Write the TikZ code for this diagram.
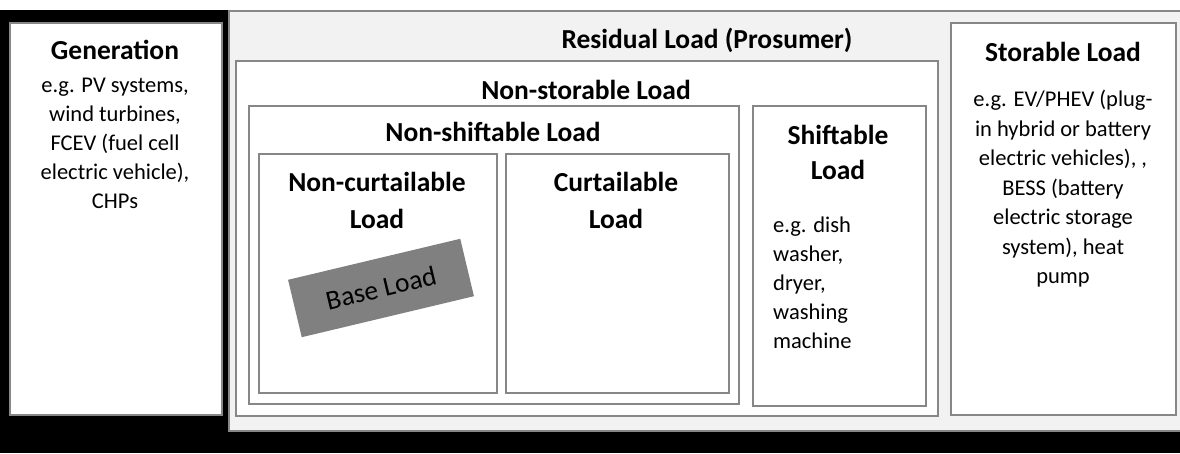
\documentclass[tikz,border=0pt]{standalone}
\usepackage{fontspec}
\setmainfont{Carlito}
\definecolor{boxgray}{HTML}{878787}
\definecolor{resfill}{HTML}{F2F2F2}
\definecolor{basegray}{HTML}{808080}
\begin{document}
\begin{tikzpicture}[x=1pt,y=-1pt,
  box/.style={draw=boxgray, line width=2pt, fill=white, inner sep=0pt, anchor=north west},
  hdr/.style={font=\fontsize{27.5}{37}\selectfont\bfseries, inner sep=0pt, align=center},
  body/.style={font=\fontsize{22.5}{29}\selectfont, inner sep=0pt, align=center},
]
\useasboundingbox (0,0) rectangle (1180,453);
\fill[white] (0,0) rectangle (1180,453);
\fill[black] (0,10) rectangle (228,453);
\fill[black] (0,431) rectangle (1180,453);
% residual box
\node[box, draw=boxgray, line width=1.5pt, fill=resfill, minimum width=962, minimum height=420] (res) at (228,10) {};
% boxes
\node[box, minimum width=212, minimum height=392] (gen) at (9,22) {};
\node[box, minimum width=225, minimum height=392] (stor) at (950,22) {};
\node[box, minimum width=702, minimum height=355] (nonstor) at (235,60) {};
\node[box, minimum width=490, minimum height=298] (nonshift) at (248,105) {};
\node[box, minimum width=173, minimum height=300] (shift) at (752,105) {};
\node[box, minimum width=238, minimum height=239] (noncurt) at (258,153) {};
\node[box, minimum width=223, minimum height=239] (curt) at (505,153) {};
% headers
\node[hdr] (genT) at (115,50) {Generation};
\node[hdr] (resT) at (707,40) {Residual Load (Prosumer)};
\node[hdr] (storT) at (1063,52) {Storable Load};
\node[hdr] (nonstorT) at (586,90) {Non-storable Load};
\node[hdr] (nonshiftT) at (493,132) {Non-shiftable Load};
\node[hdr] (noncurtT) at (377,200) {Non-curtailable\\Load};
\node[hdr] (curtT) at (616,200) {Curtailable\\Load};
\node[hdr, font=\fontsize{27.5}{35}\selectfont\bfseries] (shiftT) at (838,152.5) {Shiftable\\Load};
% bodies
\node[body] (genB) at (115,143) {e.g. PV systems,\\wind turbines,\\FCEV (fuel cell\\electric vehicle),\\CHPs};
\node[body, font=\fontsize{22.5}{29.5}\selectfont] (storB) at (1063,189) {e.g. EV/PHEV (plug-\\in hybrid or battery\\electric vehicles), ,\\BESS (battery\\electric storage\\system), heat\\pump};
\node[body, align=left, anchor=west] (shiftB) at (773,283) {e.g. dish\\washer,\\dryer,\\washing\\machine};
% base load
\node[fill=basegray, rotate=13.4, minimum width=177, minimum height=59, inner sep=0pt, font=\fontsize{27.5}{31}\selectfont] (base) at (381,288) {Base Load};
\end{tikzpicture}
\end{document}
